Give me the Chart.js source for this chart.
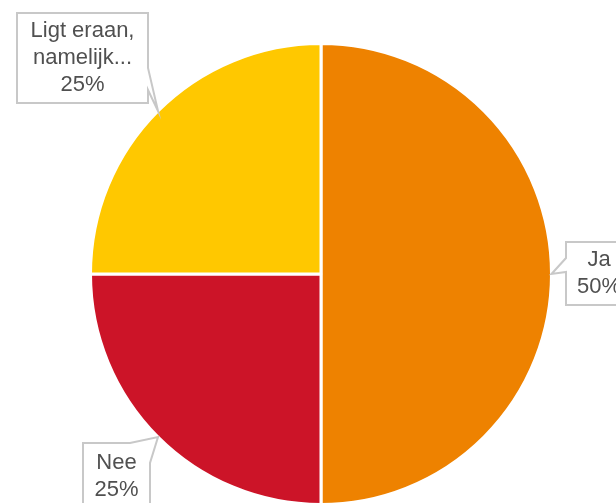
<!DOCTYPE html>
<html>
<head>
<meta charset="utf-8">
<script src="https://cdn.jsdelivr.net/npm/chart.js@4"></script>
<style>
  html, body { margin: 0; padding: 0; background: #fff; overflow: hidden; }
  #wrap { width: 616px; height: 508px; }
</style>
</head>
<body>
<div id="wrap"><canvas id="chartPie" width="616" height="508"></canvas></div>
<script>
const categorieen = ["Ja", "Nee", "Ligt eraan, namelijk..."];
const aandelen = [50, 25, 25];
const kleuren = ["#ee8200", "#cc1428", "#ffc800"];
const labelRegels = [["Ja", "50%"], ["Nee", "25%"], ["Ligt eraan,", "namelijk...", "25%"]];

// callout boxes (x, y, w, h) and the side where the pointer leaves the box
const boxen = [
    { x: 566, y: 242, w: 66, h: 63, kant: "links", a: 258, b: 272 },
    { x: 83, y: 443, w: 67, h: 66, kant: "rechtsboven", a: 458, b: 130 },
    { x: 17, y: 13, w: 131, h: 90, kant: "rechts", a: 68, b: 90 }
];

const calloutPlugin = {
    id: "callouts",
    afterDatasetsDraw(chart) {
        const ctx = chart.ctx;
        const meta = chart.getDatasetMeta(0);
        meta.data.forEach((arc, i) => {
            const mid = (arc.startAngle + arc.endAngle) / 2;
            const tx = arc.x + Math.cos(mid) * arc.outerRadius;
            const ty = arc.y + Math.sin(mid) * arc.outerRadius;
            const b = boxen[i];

            ctx.save();
            ctx.beginPath();
            const r = b.x + b.w, o = b.y + b.h;
            if (b.kant === "links") {
                ctx.moveTo(b.x, b.y);
                ctx.lineTo(r, b.y);
                ctx.lineTo(r, o);
                ctx.lineTo(b.x, o);
                ctx.lineTo(b.x, b.b);
                ctx.lineTo(tx, ty);
                ctx.lineTo(b.x, b.a);
                ctx.closePath();
            } else if (b.kant === "rechts") {
                ctx.moveTo(b.x, b.y);
                ctx.lineTo(r, b.y);
                ctx.lineTo(r, b.a);
                ctx.lineTo(tx, ty);
                ctx.lineTo(r, b.b);
                ctx.lineTo(r, o);
                ctx.lineTo(b.x, o);
                ctx.closePath();
            } else {
                // pointer leaving the top edge near the right corner
                ctx.moveTo(b.x, b.y);
                ctx.lineTo(b.b, b.y);
                ctx.lineTo(tx, ty);
                ctx.lineTo(r, b.y + 20);
                ctx.lineTo(r, o);
                ctx.lineTo(b.x, o);
                ctx.closePath();
            }
            ctx.fillStyle = "#ffffff";
            ctx.fill();
            ctx.strokeStyle = "#c8c8c8";
            ctx.lineWidth = 2;
            ctx.stroke();

            ctx.fillStyle = "#505050";
            ctx.font = "22px 'Liberation Sans', Arial, sans-serif";
            ctx.textAlign = "center";
            ctx.textBaseline = "middle";
            const regels = labelRegels[i];
            const lh = 27;
            const cx = b.x + b.w / 2;
            const cy = b.y + b.h / 2 - ((regels.length - 1) * lh) / 2;
            regels.forEach((t, j) => ctx.fillText(t, cx, cy + j * lh));
            ctx.restore();
        });
    }
};

const ctx1 = document.getElementById("chartPie").getContext("2d");

new Chart(ctx1, {
    type: "pie",
    data: {
        labels: categorieen,
        datasets: [{
            data: aandelen,
            backgroundColor: kleuren,
            borderColor: "#ffffff",
            borderWidth: 3
        }]
    },
    options: {
        responsive: false,
        animation: false,
        layout: { padding: { left: 89, right: 63, top: 42, bottom: 2 } },
        plugins: {
            legend: { display: false },
            tooltip: { enabled: false }
        }
    },
    plugins: [calloutPlugin]
});
</script>
</body>
</html>
